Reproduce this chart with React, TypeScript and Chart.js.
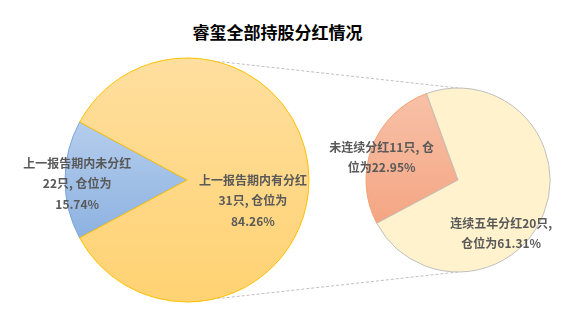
import React, { useEffect, useRef } from 'react';
import { Chart, registerables } from 'chart.js';

Chart.register(...registerables);

const TITLE = '睿玺全部持股分红情况';
const mainCategories = ['上一报告期内未分红', '上一报告期内有分红'];
const mainCounts = [22, 31];
const mainWeights = [15.74, 84.26];
const subCategories = ['未连续分红', '连续五年分红'];
const subCounts = [11, 20];
const subWeights = [22.95, 61.31];
const subWrapAt = [11, 10];

const W = 588;
const H = 311;
const LABEL_FONT = 'bold 12px "Noto Sans CJK SC", "Microsoft YaHei", sans-serif';
const LABEL_COLOR = '#595959';

const mainLabelLines = mainCategories.map((c, i) => [
  c,
  `${mainCounts[i]}只, 仓位为`,
  `${mainWeights[i].toFixed(2)}%`,
]);
const subLabelLines = subCategories.map((c, i) => {
  const s = `${c}${subCounts[i]}只, 仓位为${subWeights[i].toFixed(2)}%`;
  return [s.slice(0, subWrapAt[i]).trim(), s.slice(subWrapAt[i]).trim()];
});

function vGrad(chart: any, stops: [number, string][], from: number, to: number, fallback: string) {
  const a = chart.chartArea;
  if (!a) return fallback;
  const cy = (a.top + a.bottom) / 2;
  const r = Math.min(a.width, a.height) / 2;
  const g = chart.ctx.createLinearGradient(0, cy + from * r, 0, cy + to * r);
  stops.forEach(([p, c]) => g.addColorStop(p, c));
  return g;
}

const labelPlugin = {
  id: 'sliceLabels',
  afterDatasetsDraw(chart: any, _args: any, opts: any) {
    const arc = chart.getDatasetMeta(0).data[0];
    if (!arc) return;
    const { x, y, outerRadius: r } = arc;
    const ctx = chart.ctx;
    ctx.save();
    ctx.font = LABEL_FONT;
    ctx.fillStyle = LABEL_COLOR;
    ctx.textAlign = 'center';
    ctx.textBaseline = 'middle';
    (opts.lines as string[][]).forEach((lines, i) => {
      const [fx, fy] = opts.anchors[i];
      const cx = x + fx * r;
      const cy = y + fy * r;
      const n = lines.length;
      lines.forEach((t, k) => {
        ctx.fillText(t, cx, cy + (k - (n - 1) / 2) * opts.lineHeight);
      });
    });
    ctx.restore();
  },
};

export default function App() {
  const leftRef = useRef<HTMLCanvasElement>(null);
  const rightRef = useRef<HTMLCanvasElement>(null);

  useEffect(() => {
    const blueShare = mainWeights[0] / (mainWeights[0] + mainWeights[1]);
    const left = new Chart(leftRef.current!, {
      type: 'pie',
      data: {
        labels: mainCategories,
        datasets: [
          {
            data: mainWeights,
            backgroundColor: (c: any) =>
              c.dataIndex === 0
                ? vGrad(c.chart, [[0, '#B6CEED'], [1, '#8CB1E0']], -0.5, 0.5, '#A3C0E7')
                : vGrad(c.chart, [[0, '#FFDF9F'], [1, '#FFD272']], -1, 1, '#FFD98A'),
            borderColor: ['#7EA6DC', '#FFC000'],
            borderWidth: 1,
          },
        ],
      },
      options: {
        responsive: false,
        animation: false,
        events: [],
        rotation: 270 - blueShare * 180,
        layout: { padding: { left: 64.5, top: 57.5, right: 278.5, bottom: 8.5 } },
        plugins: {
          legend: { display: false },
          tooltip: { enabled: false },
          sliceLabels: {
            lines: mainLabelLines,
            anchors: [
              [-0.9, 0.03],
              [0.54, 0.17],
            ],
            lineHeight: 20.5,
          },
        } as any,
      },
      plugins: [labelPlugin],
    });

    const connectorPlugin = {
      id: 'connectors',
      beforeDatasetsDraw(chart: any) {
        const la = left.getDatasetMeta(0).data[0] as any;
        const ra = chart.getDatasetMeta(0).data[0];
        if (!la || !ra) return;
        const ctx = chart.ctx;
        ctx.save();
        ctx.beginPath();
        ctx.rect(0, 0, W, H);
        ctx.arc(la.x, la.y, la.outerRadius + 0.5, 0, Math.PI * 2);
        ctx.clip('evenodd');
        ctx.strokeStyle = '#BFBFBF';
        ctx.lineWidth = 1;
        ctx.setLineDash([3, 2]);
        ctx.beginPath();
        ctx.moveTo(la.x, la.y - la.outerRadius);
        ctx.lineTo(ra.x, ra.y - ra.outerRadius);
        ctx.moveTo(la.x, la.y + la.outerRadius);
        ctx.lineTo(ra.x, ra.y + ra.outerRadius);
        ctx.stroke();
        ctx.restore();
      },
    };

    const subTotal = subWeights[0] + subWeights[1];
    const right = new Chart(rightRef.current!, {
      type: 'pie',
      data: {
        labels: subCategories,
        datasets: [
          {
            data: subWeights,
            backgroundColor: (c: any) =>
              c.dataIndex === 0
                ? vGrad(c.chart, [[0, '#F8C2A9'], [1, '#F4A582']], -1, 0.5, '#F6B396')
                : '#FFF2CC',
            borderColor: ['#F4A070', '#BFBFBF'],
            borderWidth: 1,
          },
        ],
      },
      options: {
        responsive: false,
        animation: false,
        events: [],
        rotation: 340 - (subWeights[0] / subTotal) * 360,
        layout: { padding: { left: 365.5, top: 87.5, right: 37.5, bottom: 38.5 } },
        plugins: {
          legend: { display: false },
          tooltip: { enabled: false },
          sliceLabels: {
            lines: subLabelLines,
            anchors: [
              [-0.83, -0.25],
              [0.47, 0.58],
            ],
            lineHeight: 20,
          },
        } as any,
      },
      plugins: [connectorPlugin, labelPlugin],
    });

    return () => {
      right.destroy();
      left.destroy();
    };
  }, []);

  const layer: React.CSSProperties = { position: 'absolute', left: 0, top: 0, width: W, height: H };
  return (
    <div style={{ position: 'fixed', left: 0, top: 0, width: W, height: H, background: '#fff' }}>
      <div
        style={{
          position: 'absolute',
          left: 0,
          top: 22,
          width: 555,
          textAlign: 'center',
          font: 'bold 17px "Noto Sans CJK SC", sans-serif',
          lineHeight: '20px',
          color: '#000',
        }}
      >
        {TITLE}
      </div>
      <canvas ref={leftRef} width={W} height={H} style={layer} />
      <canvas ref={rightRef} width={W} height={H} style={layer} />
    </div>
  );
}
